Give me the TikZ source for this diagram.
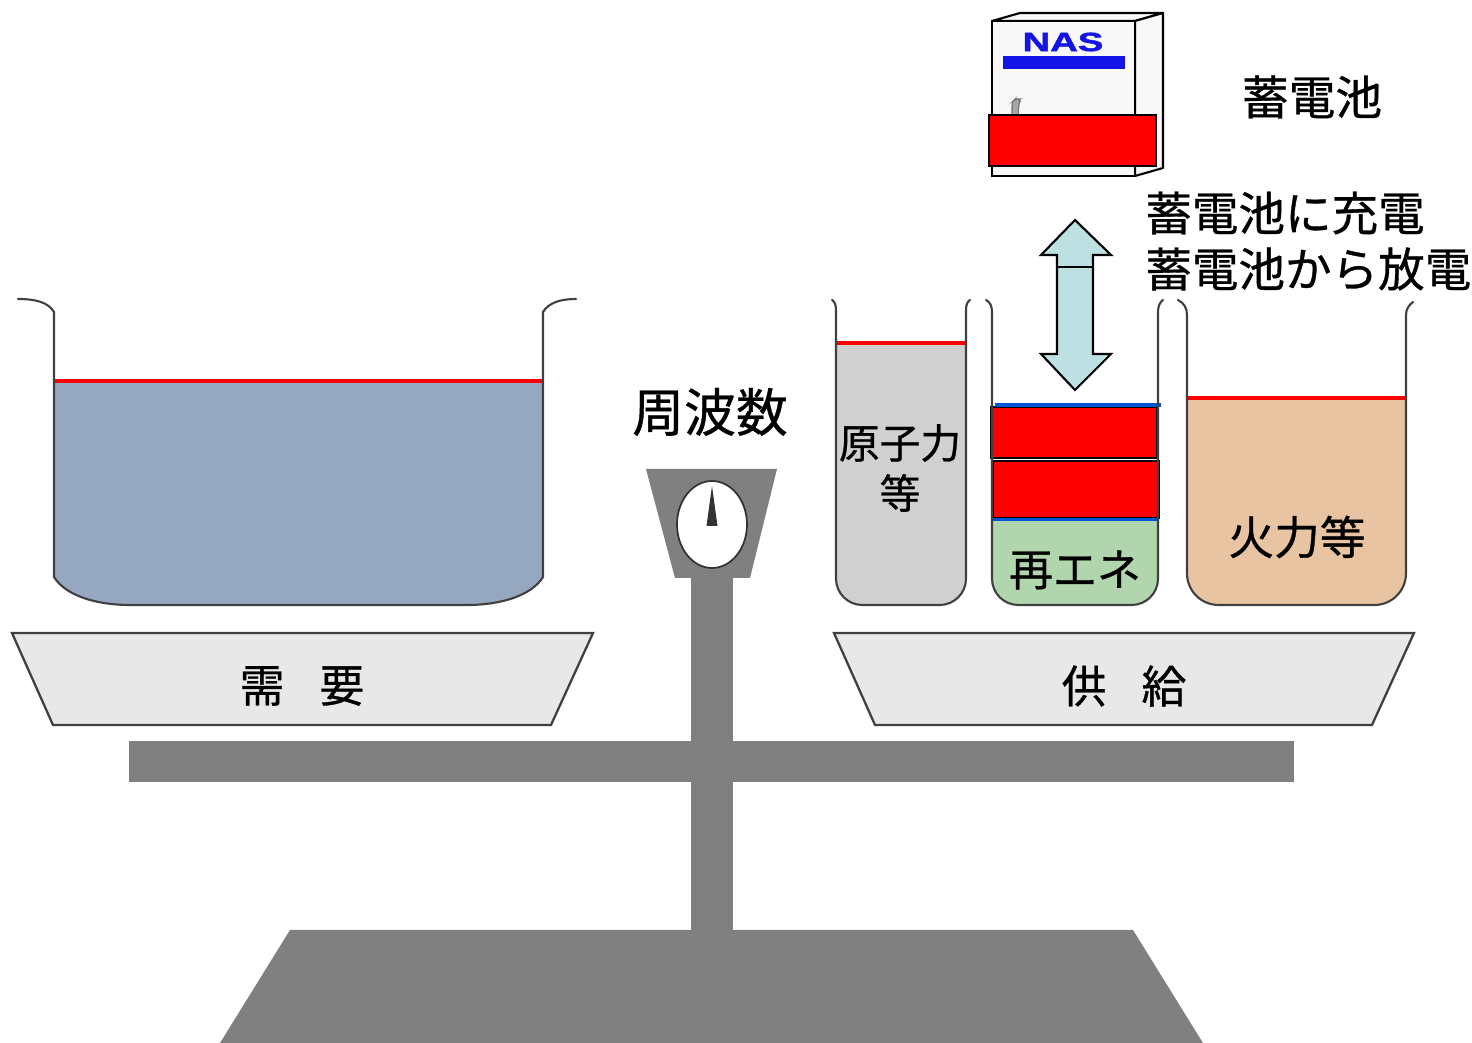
\documentclass[tikz,border=0pt]{standalone}
\usepackage{fontspec}
\setmainfont{Noto Sans CJK JP}[UprightFeatures={FakeBold=0.7}]
\newfontfamily\latinbold{Liberation Sans}[BoldFeatures={FakeBold=1.5}]
\definecolor{scalegray}{HTML}{808080}
\definecolor{panfill}{HTML}{E8E8E8}
\definecolor{edge}{HTML}{404040}
\definecolor{water}{HTML}{95A8C0}
\definecolor{nuclear}{HTML}{D0D0D0}
\definecolor{renew}{HTML}{B1D5AD}
\definecolor{thermal}{HTML}{E8C4A2}
\definecolor{flowblue}{HTML}{BDE0E3}
\definecolor{levelred}{HTML}{FF0000}
\definecolor{levelblue}{HTML}{0055D4}
\definecolor{nasblue}{HTML}{1414E6}
\definecolor{boxface}{HTML}{F8F8F8}
\newcommand{\pxfont}[1]{\fontsize{#1}{#1}\selectfont}
\begin{document}
\begin{tikzpicture}[x=0.02cm,y=-0.02cm,
  scalepart/.style={fill=scalegray,draw=none},
  panshape/.style={fill=panfill,draw=edge,line width=1.3pt,line join=miter},
  tankwall/.style={draw=edge,line width=1.2pt,line cap=round},
  levelline/.style={draw=levelred,line width=2.8pt},
  blueline/.style={draw=levelblue,line width=1.8pt},
  redblock/.style={fill=levelred,draw=black,line width=1.2pt},
  txt/.style={inner sep=0pt,text=black}]
\useasboundingbox (0,0) rectangle (1472,1043);

% ---- balance: base, pillar, beam ----
\fill[scalepart] (290,930) -- (1133,930) -- (1203,1043) -- (220,1043) -- cycle;
\fill[scalepart] (691,570) rectangle (733,931);
\fill[scalepart] (129,741) rectangle (1294,782);

% ---- pans ----
\draw[panshape] (12,633) -- (593,633) -- (551,725) -- (53,725) -- cycle;
\draw[panshape] (834,633) -- (1414,633) -- (1372,725) -- (875,725) -- cycle;
\node[txt,font=\pxfont{25.5pt}] (demand) at (302,686) {需\hspace{0.7cm}要};
\node[txt,font=\pxfont{25.5pt}] (supply) at (1124,686) {供\hspace{0.7cm}給};

% ---- dial ----
\fill[scalepart] (646,469) -- (777,469) -- (750,578) -- (675,578) -- cycle;
\draw[fill=white,draw=black!80,line width=1pt] (712,524.5) ellipse [x radius=35, y radius=43.5];
\fill[black!80] (712,486) -- (717.5,526) -- (706.5,526) -- cycle;
\node[txt,font=\pxfont{29.5pt}] (freq) at (710,412) {周波数};

% ---- demand tank ----
\fill[water] (54,381) -- (54,577) .. controls (65,595) and (95,605) .. (130,605)
  -- (467,605) .. controls (502,605) and (532,595) .. (543,577) -- (543,381) -- cycle;
\draw[levelline] (54,381) -- (543,381);
\draw[tankwall] (18,299) .. controls (35,299) and (48,302) .. (54,312) -- (54,577)
  .. controls (65,595) and (95,605) .. (130,605) -- (467,605)
  .. controls (502,605) and (532,595) .. (543,577) -- (543,312)
  .. controls (549,302) and (562,299) .. (576,299);

% ---- supply tank: nuclear ----
\fill[nuclear] (836,343) [rounded corners=15pt] -- (836,605) -- (966,605) [sharp corners] -- (966,343) -- cycle;
\draw[levelline] (836,343) -- (966,343);
\draw[tankwall] (832,300) .. controls (835,302) and (836,305) .. (836,311)
  [rounded corners=15pt] -- (836,605) -- (966,605) [sharp corners] -- (966,311)
  .. controls (966,305) and (967,302) .. (970,300);
\node[txt,font=\pxfont{23.2pt}] (nuclearlbl) at (900,443) {原子力};
\node[txt,font=\pxfont{23.2pt}] (nuclearetc) at (900,493) {等};

% ---- supply tank: renewables ----
\fill[renew] (992,519) [rounded corners=15pt] -- (992,605) -- (1158,605) [sharp corners] -- (1158,519) -- cycle;
\draw[redblock] (991,407) rectangle (1157,458);
\draw[redblock] (993,461) rectangle (1159,518);
\draw[blueline] (995,405) -- (1161,405);
\draw[blueline] (992,519.5) -- (1158,519.5);
\draw[tankwall] (986,300) .. controls (990,302) and (992,306) .. (992,312)
  [rounded corners=15pt] -- (992,605) -- (1158,605) [sharp corners] -- (1158,312)
  .. controls (1158,306) and (1160,302) .. (1163,300);
\node[txt,font=\pxfont{25pt}] (renewlbl) at (1075,570) {再エネ};

% ---- supply tank: thermal ----
\fill[thermal] (1187,398) [rounded corners=18pt] -- (1187,605) -- (1406,605) [sharp corners] -- (1406,398) -- cycle;
\draw[levelline] (1187,398) -- (1406,398);
\draw[tankwall] (1178,300) .. controls (1184,303) and (1187,308) .. (1187,315)
  [rounded corners=18pt] -- (1187,605) -- (1406,605) [sharp corners] -- (1406,315)
  .. controls (1406,309) and (1409,305) .. (1413,302);
\node[txt,font=\pxfont{26pt}] (thermallbl) at (1297,537) {火力等};

% ---- charge / discharge arrow ----
\draw[fill=flowblue,draw=black,line width=1.2pt,line join=miter]
  (1075,220) -- (1111,255) -- (1093,255) -- (1093,354) -- (1111,354) -- (1075,390)
  -- (1041,354) -- (1057,354) -- (1057,255) -- (1041,255) -- cycle;
\draw[black,line width=1.2pt] (1057,267) -- (1093,267);

% ---- NAS battery cabinet ----
\draw[fill=boxface,draw=black,line width=1.2pt,line join=round] (992,21) -- (1020,13) -- (1163,13) -- (1135,21) -- cycle;
\draw[fill=boxface,draw=black,line width=1.2pt,line join=round] (1135,21) -- (1163,13) -- (1163,168) -- (1135,176) -- cycle;
\draw[fill=boxface,draw=black,line width=1.2pt] (992,21) rectangle (1135,176);
\node[txt,text=nasblue,font=\latinbold\bfseries\pxfont{15pt},xscale=1.45] (nas) at (1063,42) {NAS};
\fill[nasblue] (1003,56) rectangle (1125,69);
\draw[fill=black!35,draw=black!55,line width=0.6pt,rounded corners=2pt] (1012,118) -- (1012,102) -- (1015,99) -- (1021,99) -- (1019,103) -- (1018,118) -- cycle;
\draw[redblock] (989,115) rectangle (1156,166);
\node[txt,font=\pxfont{26.6pt}] (battery) at (1312,97) {蓄電池};
\node[txt,anchor=west,font=\pxfont{26.5pt}] (charge) at (1145,213) {蓄電池に充電};
\node[txt,anchor=west,font=\pxfont{26.5pt}] (discharge) at (1145,269) {蓄電池から放電};
\end{tikzpicture}
\end{document}
